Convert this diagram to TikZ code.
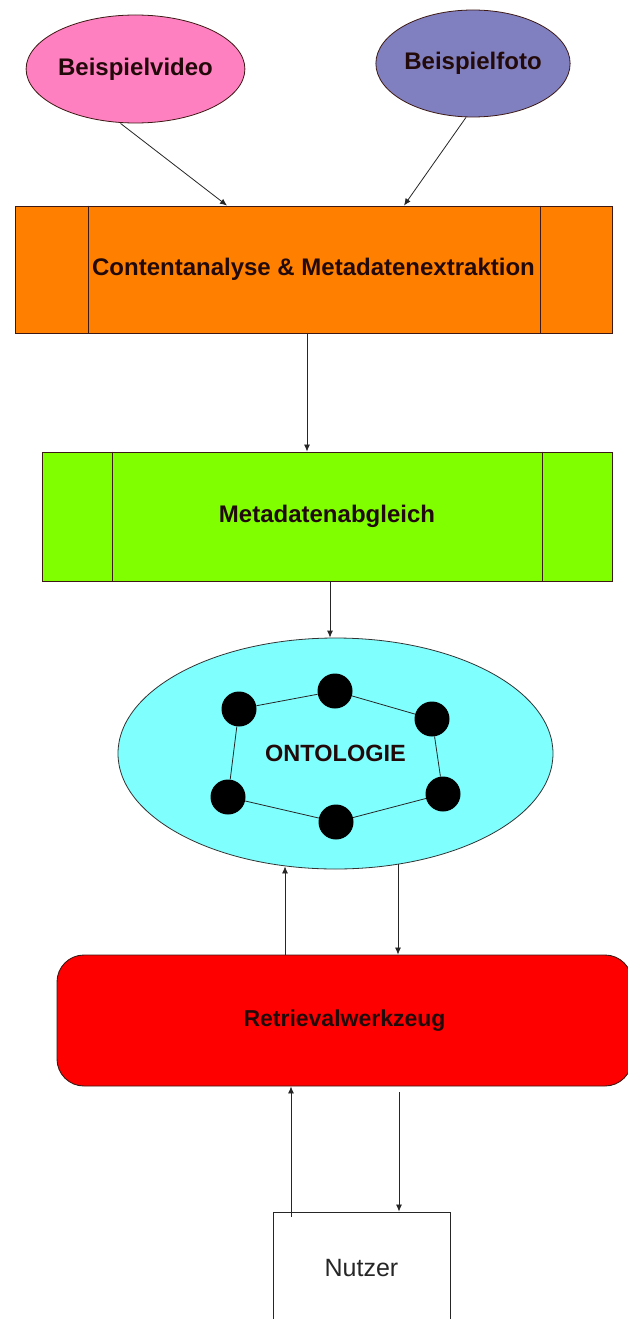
\documentclass[tikz,border=0pt]{standalone}
\usepackage{fontspec}
\setmainfont{Liberation Sans}
\usetikzlibrary{arrows.meta,positioning,shapes.geometric}
\definecolor{pinkfill}{RGB}{255,128,192}
\definecolor{violetfill}{RGB}{128,128,192}
\definecolor{orangefill}{RGB}{255,128,0}
\definecolor{greenfill}{RGB}{128,255,0}
\definecolor{cyanfill}{RGB}{128,255,255}
\definecolor{redfill}{RGB}{255,0,0}
\definecolor{inktext}{RGB}{35,10,10}
\definecolor{edgeink}{RGB}{60,25,20}
\newcommand{\boldlabel}{\fontsize{24pt}{28pt}\selectfont\bfseries}
\tikzset{
  source/.style={draw=edgeink, ellipse, inner sep=0pt, line width=0.8pt, minimum width=175pt, minimum height=108pt, text=inktext, font=\boldlabel},
  process/.style={draw=edgeink, rectangle, inner sep=0pt, line width=0.9pt, text=inktext, font=\boldlabel},
  sideline/.style={draw=edgeink, line width=0.9pt},
  ontology/.style={draw=black!80, ellipse, inner sep=0pt, line width=0.8pt, fill=cyanfill, minimum width=435pt, minimum height=231pt, text=inktext, font=\fontsize{23.5pt}{27pt}\selectfont\bfseries},
  concept/.style={circle, fill=black, inner sep=0pt, minimum size=35pt},
  link/.style={draw=black!85, line width=0.8pt},
  tool/.style={draw=edgeink, rectangle, rounded corners=27pt, line width=0.9pt, fill=redfill, minimum width=575pt, minimum height=131pt, text=inktext, font=\fontsize{23pt}{27pt}\selectfont\bfseries},
  user/.style={draw=black!85, rectangle, line width=0.9pt, fill=white, minimum width=177pt, minimum height=112pt, text=black!85, font=\fontsize{25pt}{29pt}\selectfont},
  arrow/.style={-{Latex[length=7pt,width=6pt]}, draw=black!85, line width=0.8pt}
}
\begin{document}
\begin{tikzpicture}[x=1pt,y=-1pt]
  \useasboundingbox[fill=white] (0,0) rectangle (628,1319);

  \node[source, fill=pinkfill] (vid) at (135.5,69) {Beispielvideo};
  \node[source, fill=violetfill, minimum width=170pt, minimum height=107pt] (foto) at (473,63.5) {Beispielfoto};

  \node[process, fill=orangefill, minimum width=597pt, minimum height=127pt] (cont) at (313.5,269.5) {Contentanalyse \& Metadatenextraktion};
  \draw[sideline] ([xshift=74pt]cont.north west) -- ([xshift=74pt]cont.south west);
  \draw[sideline] ([xshift=-72pt]cont.north east) -- ([xshift=-72pt]cont.south east);

  \node[process, fill=greenfill, minimum width=570pt, minimum height=129pt] (meta) at (327,516.5) {Metadatenabgleich};
  \draw[sideline] ([xshift=71pt]meta.north west) -- ([xshift=71pt]meta.south west);
  \draw[sideline] ([xshift=-70pt]meta.north east) -- ([xshift=-70pt]meta.south east);

  \node[ontology] (onto) at (335.5,753.5) {ONTOLOGIE};
  \node[concept] (c1) at (239,709) {};
  \node[concept] (c2) at (335,691) {};
  \node[concept] (c3) at (432,719) {};
  \node[concept] (c4) at (443,794) {};
  \node[concept] (c5) at (336,822) {};
  \node[concept] (c6) at (228,797) {};
  \draw[link] (c1) -- (c2);
  \draw[link] (c2) -- (c3);
  \draw[link] (c3) -- (c4);
  \draw[link] (c4) -- (c5);
  \draw[link] (c5) -- (c6);
  \draw[link] (c6) -- (c1);

  \node[tool] (retr) at (344.5,1020.5) {Retrievalwerkzeug};
  \node[user] (nutz) at (361.5,1268) {Nutzer};

  \draw[arrow] ([xshift=-15pt]vid.south) -- ([xshift=-86.5pt]cont.north);
  \draw[arrow] ([xshift=-7pt]foto.south) -- ([xshift=90.5pt]cont.north);
  \draw[arrow] ([xshift=-6.5pt]cont.south) -- ([xshift=-6.5pt]cont.south |- meta.north);
  \draw[arrow] ([xshift=3pt]meta.south) -- ([xshift=3pt]meta.south |- onto.north);
  \draw[arrow] ([xshift=-59.5pt]retr.north) -- ([xshift=-59.5pt, yshift=3pt]retr.north |- onto.south);
  \draw[arrow] ([xshift=53.5pt, yshift=5pt]retr.north |- onto.south) -- ([xshift=53.5pt]retr.north);
  \draw[arrow] ([xshift=-70.5pt, yshift=-5pt]nutz.north) -- ([xshift=-70.5pt]nutz.north |- retr.south);
  \draw[arrow] ([xshift=37.5pt, yshift=-6pt]nutz.north |- retr.south) -- ([xshift=37.5pt]nutz.north);
\end{tikzpicture}
\end{document}
